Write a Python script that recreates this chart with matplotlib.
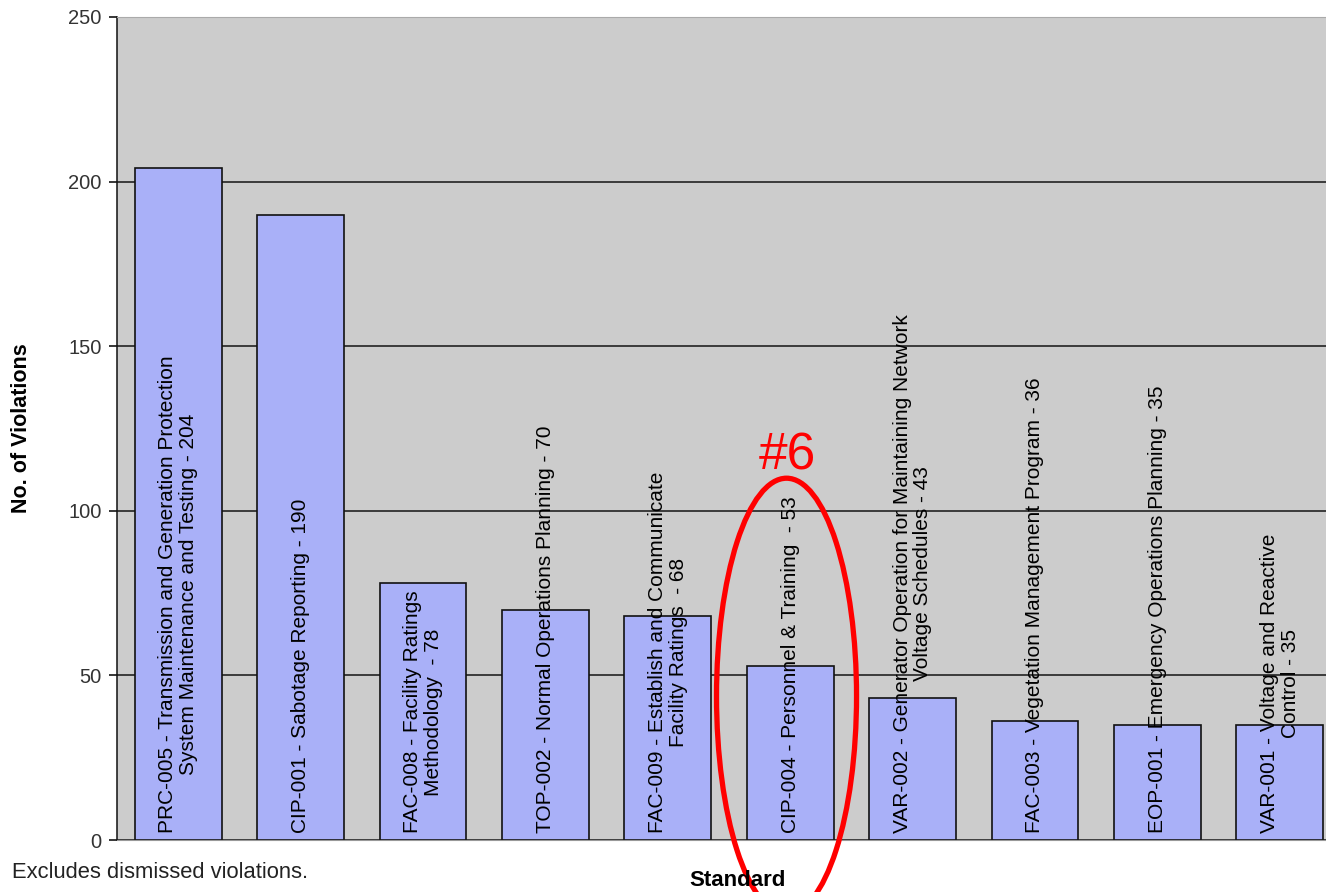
import matplotlib
matplotlib.use("Agg")
import matplotlib.pyplot as plt
from matplotlib.patches import Ellipse
import numpy as np

plt.rcParams['font.family'] = ['Liberation Sans', 'DejaVu Sans']

# data
labels = [
    "PRC-005 - Transmission and Generation Protection\nSystem Maintenance and Testing - 204",
    "CIP-001 - Sabotage Reporting - 190",
    "FAC-008 - Facility Ratings\nMethodology  - 78",
    "TOP-002 - Normal Operations Planning - 70",
    "FAC-009 - Establish and Communicate\nFacility Ratings  - 68",
    "CIP-004 - Personnel & Training  - 53",
    "VAR-002 - Generator Operation for Maintaining Network\nVoltage Schedules - 43",
    "FAC-003 - Vegetation Management Program - 36",
    "EOP-001 - Emergency Operations Planning - 35",
    "VAR-001 - Voltage and Reactive\nControl - 35",
]
violations = [204, 190, 78, 70, 68, 53, 43, 36, 35, 35]
yticks = [0, 50, 100, 150, 200, 250]
highlight = 5  # CIP-004, ranked #6

W, H = 1326, 892
fig = plt.figure(figsize=(W / 100, H / 100), dpi=100)
# plot area runs past the right edge of the picture (cropped original)
ax = fig.add_axes([117 / W, 52 / H, 1224 / W, 823 / H])
ax.set_facecolor('#cccccc')

x = np.arange(len(violations))
ax.bar(x, violations, width=0.71, color='#a9b0f8', edgecolor='#111111',
       linewidth=1.2, zorder=2)

for xi, lab in zip(x, labels):
    ax.text(xi, 2, lab, rotation=90, ha='center', va='bottom',
            multialignment='center', fontsize=15, color='black',
            linespacing=1.1, zorder=4)

ax.set_xlim(-0.5, len(violations) - 0.5)
ax.set_ylim(0, 250)
ax.set_yticks(yticks)
ax.set_xticks([])
ax.yaxis.grid(True, color='#222222', linewidth=1.2, zorder=1)
ax.set_axisbelow(True)
ax.tick_params(axis='y', direction='out', length=6, width=1.1,
               labelsize=14.5, labelcolor='#333333', pad=5)

ax.spines['left'].set_color('#111111')
ax.spines['left'].set_linewidth(1.1)
ax.spines['bottom'].set_color('#999999')
ax.spines['top'].set_color('#aaaaaa')
ax.spines['right'].set_visible(False)

fig.text(22 / W, 1 - 428 / H, "No. of Violations", rotation=90, ha='center',
         va='center', fontsize=15.5, fontweight='bold')
fig.text(738 / W, 1 - 880 / H, "Standard", ha='center', va='center',
         fontsize=16, fontweight='bold')
fig.text(12 / W, 1 - 873 / H, "Excludes dismissed violations.", ha='left',
         va='center', fontsize=15.8, color='#222222')

# red annotation around the #6 standard
ax.add_patch(Ellipse((highlight - 0.03, 43.7), 1.144, 132.4, fill=False,
                     edgecolor='red', linewidth=3.8, clip_on=False, zorder=5))
ax.text(highlight - 0.02, 112.4, "#6", ha='center', va='baseline',
        fontsize=37, color='red', zorder=5)

fig.savefig("out.png", dpi=100)
